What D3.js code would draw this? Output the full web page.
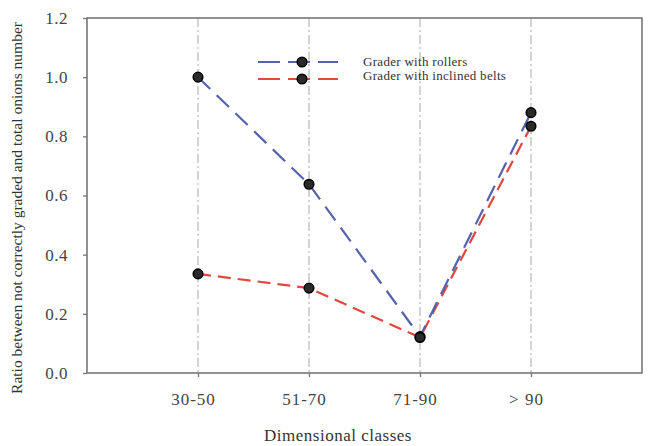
<!DOCTYPE html>
<html><head><meta charset="utf-8">
<script src="https://cdn.jsdelivr.net/npm/d3@7"></script>
<style>body{margin:0;background:#fff}</style>
</head><body>
<svg id="c" width="651" height="446"></svg>
<script>
const categories = ["30-50", "51-70", "71-90", "> 90"];
const rollers = [1.0, 0.638, 0.123, 0.88];
const belts = [0.335, 0.287, 0.12, 0.834];
const yTicks = [0, 0.2, 0.4, 0.6, 0.8, 1.0, 1.2];
const seriesNames = ["Grader with rollers", "Grader with inclined belts"];

const svg = d3.select("#c");
const L = 87, R = 642, T = 18, B = 373;
const x = d3.scaleLinear().domain([0, 5]).range([L, R]);
const y = d3.scaleLinear().domain([0, 1.2]).range([B, T]);
const font = "'Liberation Serif', 'Times New Roman', serif";

// gridlines
svg.append("g").selectAll("line").data(categories).join("line")
  .attr("x1", (d,i)=>x(i+1)).attr("x2", (d,i)=>x(i+1))
  .attr("y1", T).attr("y2", B)
  .attr("stroke", "#c4bcbc").attr("stroke-width", 1.3)
  .attr("stroke-dasharray", "9,3,2,3");

// frame
svg.append("rect").attr("x", L).attr("y", T).attr("width", R-L).attr("height", B-T)
  .attr("fill", "none").attr("stroke", "#777").attr("stroke-width", 1.6);

// y axis
const ya = svg.append("g").attr("transform", `translate(${L},0)`)
  .call(d3.axisLeft(y).tickValues(yTicks).tickFormat(d3.format(".1f")).tickSize(4).tickPadding(15));
ya.select(".domain").remove();
ya.selectAll("line").attr("stroke", "#777").attr("stroke-width", 1.3);
ya.selectAll("text").attr("font-family", font).attr("font-size", 17).attr("fill", "#444")
  .attr("letter-spacing", 0.5);

// x axis
const xa = svg.append("g").attr("transform", `translate(0,${B})`)
  .call(d3.axisBottom(x).tickValues([1,2,3,4]).tickFormat(i=>categories[i-1]).tickSize(4).tickPadding(16));
xa.select(".domain").remove();
xa.selectAll("line").attr("stroke", "#777").attr("stroke-width", 1.3);
xa.selectAll("text").attr("font-family", font).attr("font-size", 17).attr("fill", "#444")
  .attr("letter-spacing", 1).attr("dx", -5);

// axis titles
svg.append("text").attr("x", 338).attr("y", 441).attr("text-anchor", "middle")
  .attr("font-family", font).attr("font-size", 17).attr("letter-spacing", 0.5)
  .attr("fill", "#333").text("Dimensional classes");
svg.append("text").attr("transform", "translate(22,208) rotate(-90)").attr("text-anchor", "middle")
  .attr("font-family", font).attr("font-size", 15.5).attr("fill", "#333")
  .text("Ratio between not correctly graded  and total onions number");

const line = d3.line().x((d,i)=>x(i+1)).y(d=>y(d));
const series = [
  {vals: rollers, color: "#5562b0", dash: "17,9"},
  {vals: belts, color: "#e0483f", dash: "13,7"}
];
[series[1], series[0]].forEach(s => {
  svg.append("path").datum(s.vals).attr("d", line).attr("fill", "none")
    .attr("stroke", s.color).attr("stroke-width", 2.2).attr("stroke-dasharray", s.dash);
});
series.forEach(s => {
  svg.append("g").selectAll("circle").data(s.vals).join("circle")
    .attr("cx", (d,i)=>x(i+1)).attr("cy", d=>y(d)).attr("r", 4.8)
    .attr("fill", "#2a2a2a").attr("stroke", "#000").attr("stroke-width", 1.5);
});

// legend
const lg = svg.append("g");
series.forEach((s, i) => {
  const ly = 62 + i*17;
  lg.append("line").attr("x1", 258).attr("x2", 338).attr("y1", ly).attr("y2", ly)
    .attr("stroke", s.color).attr("stroke-width", 2.2).attr("stroke-dasharray", "22,8");
  lg.append("circle").attr("cx", 302).attr("cy", ly).attr("r", 4.8)
    .attr("fill", "#2a2a2a").attr("stroke", "#000").attr("stroke-width", 1.5);
  lg.append("text").attr("x", 363).attr("y", 66 + i*14).attr("font-family", font)
    .attr("font-size", 13).attr("letter-spacing", 0.3)
    .attr("fill", "#333").text(seriesNames[i]);
});
</script>
</body></html>
